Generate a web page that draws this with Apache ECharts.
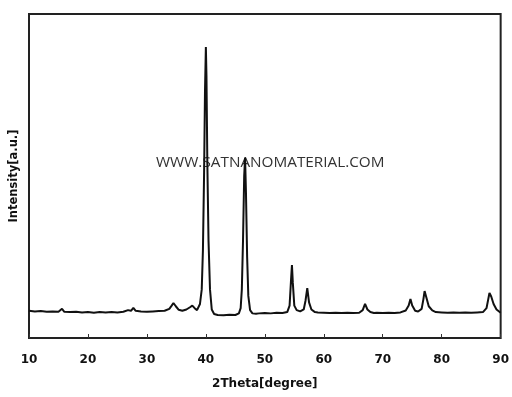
<!DOCTYPE html>
<html>
<head>
<meta charset="utf-8">
<script src="https://cdn.jsdelivr.net/npm/echarts@6/dist/echarts.min.js"></script>
<style>
  html, body { margin: 0; padding: 0; background: #fff; }
  #chart { width: 512px; height: 397px; }
</style>
</head>
<body>
<div id="chart"></div>
<script>
// 2theta (degree) and intensity (a.u.)
const twoTheta = [
  10, 11, 12, 13, 14, 15, 15.6, 16, 17, 18, 19, 20, 21, 22, 23, 24, 25, 26, 26.8, 27.3, 27.7, 28.1,
  29, 30, 31, 32, 33, 33.8, 34.2, 34.5, 34.9, 35.4, 36, 36.7, 37.3, 37.7, 38.1, 38.5, 38.8,
  39.0, 39.3, 39.5, 39.7, 39.85, 40.0, 40.1, 40.25, 40.45, 40.7, 41.0, 41.4, 42, 43, 44, 45,
  45.6, 45.9, 46.1, 46.3, 46.5, 46.65, 46.8, 47.0, 47.2, 47.5, 47.9, 48.5, 49, 50, 51, 52, 53,
  53.8, 54.2, 54.45, 54.6, 54.75, 55.0, 55.4, 56, 56.6, 56.9, 57.2, 57.5, 57.9, 58.5, 59, 60,
  61, 62, 63, 64, 65, 66, 66.6, 67.0, 67.4, 67.9, 68.5, 69, 70, 71, 72, 73, 73.9, 74.4, 74.7,
  75.0, 75.5, 76, 76.6, 76.9, 77.1, 77.4, 77.8, 78.4, 79, 80, 81, 82, 83, 84, 85, 86, 87,
  87.6, 87.9, 88.1, 88.4, 88.8, 89.3, 90
];
const intensity = [
  84, 82, 83, 81, 82, 81, 90, 81, 80, 81, 79, 80, 78, 80, 79, 80, 79, 81, 86, 84, 93, 84,
  82, 81, 82, 83, 84, 90, 100, 108, 98, 87, 84, 88, 95, 100, 92, 86, 90,
  105, 150, 270, 510, 760, 898, 810, 540, 300, 150, 88, 74, 71, 70, 72, 71,
  76, 92, 150, 300, 500, 556, 450, 250, 130, 86, 76, 75, 76, 77, 76, 78, 77,
  80, 100, 180, 225, 170, 100, 86, 82, 88, 115, 154, 110, 88, 80, 79, 78,
  77, 78, 77, 78, 77, 78, 86, 105, 88, 80, 77, 78, 77, 78, 77, 79, 85, 100, 120,
  100, 84, 82, 90, 120, 145, 125, 98, 85, 80, 79, 78, 79, 78, 79, 78, 79, 80,
  92, 120, 139, 128, 105, 88, 78
];
const xTicks = { min: 10, max: 90, interval: 10 };
const xName = '2Theta[degree]';
const yName = 'Intensity[a.u.]';
const watermark = 'WWW.SATNANOMATERIAL.COM';

const chart = echarts.init(document.getElementById('chart'));
const option = {
  animation: false,
  grid: {
    left: 28, right: 9, top: 14, bottom: 59,
    show: true,
    borderColor: '#222',
    borderWidth: 2
  },
  xAxis: {
    type: 'value',
    min: xTicks.min,
    max: xTicks.max,
    interval: xTicks.interval,
    name: xName,
    nameLocation: 'middle',
    nameGap: 40,
    nameTextStyle: { fontFamily: 'DejaVu Sans', fontWeight: 'bold', fontSize: 12, color: '#111' },
    axisLine: { show: false },
    axisTick: { show: true, inside: true, length: 4, lineStyle: { color: '#333', width: 1 } },
    axisLabel: { margin: 16, fontFamily: 'DejaVu Sans', fontWeight: 'bold', fontSize: 12, color: '#111' },
    splitLine: { show: false }
  },
  yAxis: {
    type: 'value',
    min: 0,
    max: 1000,
    name: yName,
    nameLocation: 'middle',
    nameGap: 9,
    nameTextStyle: { fontFamily: 'DejaVu Sans', fontWeight: 'bold', fontSize: 11.5, color: '#111' },
    axisLine: { show: false },
    axisTick: { show: false },
    axisLabel: { show: false },
    splitLine: { show: false }
  },
  graphic: [{
    type: 'text',
    left: 156,
    top: 155,
    style: {
      text: watermark,
      font: '15.3px "Open Sans"',
      fill: '#333'
    }
  }],
  series: [{
    type: 'line',
    data: twoTheta.map((t, i) => [t, intensity[i]]),
    showSymbol: false,
    lineStyle: { color: '#111', width: 2 },
    z: 3
  }]
};
chart.setOption(option);
</script>
</body>
</html>
